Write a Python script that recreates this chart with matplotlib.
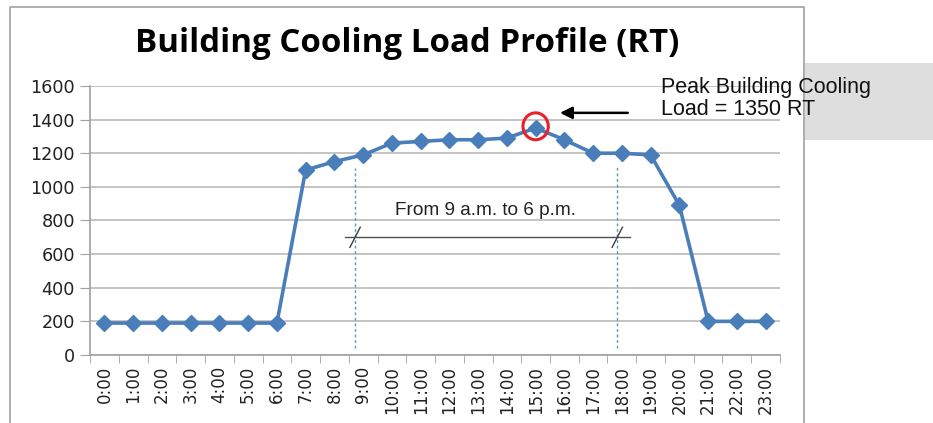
import matplotlib
matplotlib.use('Agg')
import matplotlib.pyplot as plt
from matplotlib.patches import Ellipse, Rectangle
from matplotlib.lines import Line2D

## Data
hours = ['0:00', '1:00', '2:00', '3:00', '4:00', '5:00', '6:00', '7:00', '8:00', '9:00',
         '10:00', '11:00', '12:00', '13:00', '14:00', '15:00', '16:00', '17:00', '18:00',
         '19:00', '20:00', '21:00', '22:00', '23:00']
load_rt = [190, 190, 190, 190, 190, 190, 190, 1100, 1150, 1190,
           1260, 1270, 1280, 1280, 1290, 1350, 1280, 1200, 1200,
           1190, 890, 200, 200, 200]
y_ticks = [0, 200, 400, 600, 800, 1000, 1200, 1400, 1600]
peak_idx = 15
peak_val = 1350

## Figure
fig = plt.figure(figsize=(9.33, 4.23), dpi=100)
ax = fig.add_axes([0.0965, 0.1608, 0.7395, 0.636])

x = list(range(len(hours)))
ax.plot(x, load_rt, color='#4a7ebb', lw=2.6, marker='D', ms=8.5, zorder=4)

# axes formatting (excel look)
ax.set_xlim(-0.5, len(hours) - 0.5)
ax.set_ylim(0, 1600)
ax.set_yticks(y_ticks)
ax.set_yticklabels([str(v) for v in y_ticks], fontsize=12.7, color='#222222')
ax.set_xticks(x)
ax.set_xticklabels(hours, rotation=90, fontsize=12, color='#222222')
ax.set_xticks([i - 0.5 for i in range(len(hours) + 1)], minor=True)
ax.tick_params(axis='x', which='major', length=0, pad=8)
ax.tick_params(axis='x', which='minor', length=6, color='#a0a0a0', direction='out')
ax.tick_params(axis='y', length=7, color='#a0a0a0', pad=4)
ax.grid(axis='y', color='#b4b4b4', lw=1.1)
ax.set_axisbelow(True)
for s in ['top', 'right']:
    ax.spines[s].set_visible(False)
for s in ['left', 'bottom']:
    ax.spines[s].set_color('#a0a0a0')
    ax.spines[s].set_linewidth(1.2)

# 9am - 6pm span markers
span_left = 8.72
span_right = 17.84
ax.plot([span_left, span_left], [40, 1110], color='#4a9fb5', lw=1.0, ls=(0, (2, 2)), zorder=2)
ax.plot([span_right, span_right], [40, 1120], color='#4a9fb5', lw=1.0, ls=(0, (2, 2)), zorder=2)
ax.plot([8.37, 18.28], [700, 700], color='#505050', lw=1.0, zorder=3)
for xs in [span_left, span_right]:
    ax.plot([xs - 0.18, xs + 0.18], [640, 760], color='#404040', lw=1.0, zorder=3)
ax.text(13.27, 860, 'From 9 a.m. to 6 p.m.', ha='center', va='center',
        fontsize=13.7, family='Liberation Sans', color='#222222')

# peak marker
ax.add_patch(Ellipse((peak_idx, peak_val + 10), 0.88, 160, fill=False,
                     ec='#e8202a', lw=2.2, zorder=5))
ax.annotate('', xy=(15.75, 1440), xytext=(18.3, 1440),
            arrowprops=dict(arrowstyle='-|>', color='black', lw=1.8,
                            mutation_scale=18), annotation_clip=False)

# chart frame + grey box
fig.patches.append(Rectangle((0.8607, 0.669), 0.14, 0.182, transform=fig.transFigure,
                             facecolor='#dedede', edgecolor='none', zorder=0))
fig.lines.append(Line2D([0.0107, 0.0107, 0.862, 0.862], [0.0, 0.9835, 0.9835, 0.0],
                        transform=fig.transFigure, color='#a8a8a8', lw=1.3))

fig.text(0.709, 0.818, 'Peak Building Cooling\nLoad = ' + str(peak_val) + ' RT',
         ha='left', va='top', fontsize=15.5, family='Liberation Sans',
         linespacing=1.05, color='#111111')

fig.text(0.436, 0.877, 'Building Cooling Load Profile (RT)', ha='center', va='baseline',
         fontsize=23.8, fontweight='bold', family='Open Sans', color='black')

fig.savefig('out.png', dpi=100)
